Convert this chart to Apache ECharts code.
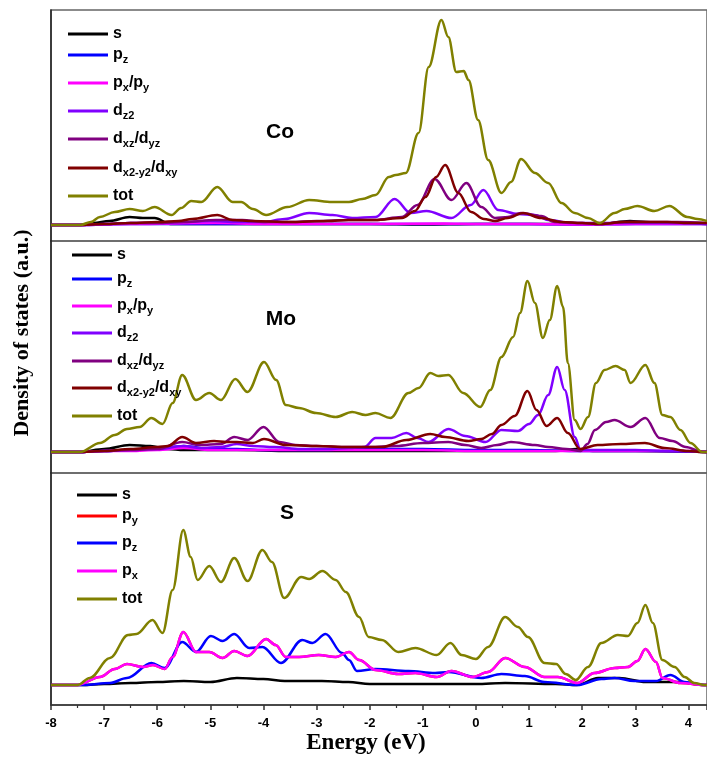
<!DOCTYPE html>
<html>
<head>
<meta charset="utf-8">
<script src="https://cdn.jsdelivr.net/npm/echarts@6/dist/echarts.min.js"></script>
<style>html,body{margin:0;padding:0;background:#fff}#c{width:707px;height:762px}</style>
</head>
<body>
<div id="c"></div>
<script>
// Energy ticks (eV)
const xTicks = [-8,-7,-6,-5,-4,-3,-2,-1,0,1,2,3,4];

// ---- Co PDOS (a.u.) : [energy, dos]
const coS   = [[-8,0],[-7.45,0],[-7.2,2],[-6.9,4],[-6.52,8],[-6.27,7],[-6.05,7],[-5.75,1],[-5,1],[-4,1],[-3,1],[-2,1],[-1,0.5],[0,1],[1,1],[2,1],[2.33,1],[2.9,4],[3.2,3],[3.6,2],[4.35,1]];
const coPz  = [[-8,0],[-7.5,0],[-6.5,1],[-5,1],[-3,1],[-1,1],[0,1],[1,1],[2,0.5],[3,1],[4,1],[4.35,1]];
const coPxPy= [[-8,0],[-7.5,0],[-6.5,1],[-4.9,2],[-4,1],[-2,1],[-0.6,1.5],[0,1],[1,1],[2,0.5],[3,1],[4.35,1]];
const coDz2 = [[-8,0],[-7.5,0],[-7,1],[-6.5,2],[-6,2],[-5.5,3],[-5,4],[-4.5,3],[-4,3],[-3.6,6],[-3.14,12],[-2.7,10],[-2.33,7],[-1.89,8],[-1.53,26],[-1.23,12],[-0.93,14],[-0.46,7],[-0.1,20],[0.14,35],[0.42,15],[0.79,11],[1.11,10],[1.36,5],[1.8,2],[2.5,2],[3.5,2],[4.35,1]];
const coDxz = [[-8,0],[-7.5,0],[-7,1],[-6.5,2],[-6,2],[-5.5,3],[-4.9,5],[-4.4,5],[-4,3],[-3.5,3],[-3,4],[-2.4,5],[-1.9,5],[-1.4,8],[-1.1,20],[-0.78,46],[-0.46,25],[-0.18,42],[0.1,18],[0.36,7],[0.6,8],[0.85,12],[1.23,9],[1.48,3],[2.0,2],[2.33,1],[2.8,3],[3.3,3],[3.8,3],[4.35,2]];
const coDx2 = [[-8,0],[-7.5,0],[-7,1],[-6.5,2],[-6,3],[-5.6,4],[-5.34,6],[-4.87,10],[-4.58,5],[-4.2,4],[-3.5,3],[-2.8,4],[-2.4,5],[-1.9,5],[-1.39,7],[-1.15,14],[-0.95,28],[-0.75,48],[-0.58,60],[-0.33,32],[-0.09,13],[0.15,6],[0.36,4],[0.6,7],[0.89,12],[1.23,7],[1.61,3],[2.0,2],[2.33,1],[2.8,3],[3.2,3],[3.6,3],[4.0,2],[4.35,2]];
const coTot = [[-8,0],[-7.45,0],[-7.25,3],[-7.08,8],[-6.8,13],[-6.52,16],[-6.27,14],[-6.05,18],[-5.73,10],[-5.55,17],[-5.36,24],[-5.17,23],[-4.87,38],[-4.58,23],[-4.42,23],[-4.2,16],[-3.95,10],[-3.55,18],[-3.14,25],[-2.71,23],[-2.39,23],[-2.14,26],[-1.89,30],[-1.64,48],[-1.51,50],[-1.32,52],[-1.08,92],[-0.89,158],[-0.65,205],[-0.52,188],[-0.37,153],[-0.23,154],[-0.14,145],[0.04,105],[0.23,65],[0.48,32],[0.66,43],[0.85,66],[1.11,52],[1.36,42],[1.61,22],[1.86,12],[2.11,7],[2.33,2],[2.61,12],[2.8,16],[3.04,19],[3.36,14],[3.64,19],[3.98,8],[4.17,6],[4.35,4]];

// ---- Mo PDOS
const moS   = [[-8,0],[-7.45,0],[-7.0,3],[-6.52,7],[-6.13,6],[-5.8,3],[-5.5,2],[-4.5,2],[-3.5,1],[-2.5,1],[-1.5,1],[-0.5,1],[0.5,1],[1.5,1],[1.9,3],[2.2,1],[3,1],[4.35,0]];
const moPz  = [[-8,0],[-7.5,0],[-7,1],[-6.5,2],[-6,3],[-5.5,6],[-5.0,3],[-4.5,3],[-4,2],[-3,2],[-2,3],[-1,3],[0,2],[1,2],[1.97,1],[2.5,1],[3.5,1],[4.35,0]];
const moPxPy= [[-8,0],[-7.5,0],[-7,1],[-6.5,1],[-6,2],[-5.5,4],[-5,2],[-4.5,2],[-4,2],[-3,2],[-2,2],[-1,2],[0,1],[1,1],[2,1],[3,1],[4,1],[4.35,0]];
const moDz2 = [[-8,0],[-7.5,0],[-7,1],[-6.5,2],[-6,3],[-5.5,6],[-5.2,4],[-4.8,5],[-4.5,8],[-4.2,6],[-3.8,5],[-3.3,3],[-2.8,3],[-2.39,4],[-2.1,5],[-1.89,14],[-1.59,14],[-1.31,19],[-1.1,14],[-0.89,10],[-0.52,23],[-0.2,16],[0.18,10],[0.48,22],[0.79,21],[1.0,28],[1.17,37],[1.36,57],[1.53,85],[1.67,62],[1.86,15],[1.97,2],[2.3,2],[3.0,2],[3.6,1],[4.35,0]];
const moDxz = [[-8,0],[-7.5,0],[-7,1],[-6.5,2],[-6,3],[-5.53,10],[-5.2,7],[-4.8,8],[-4.55,15],[-4.3,12],[-4.0,25],[-3.7,10],[-3.4,7],[-3,6],[-2.5,5],[-2,5],[-1.5,6],[-1.0,9],[-0.52,10],[-0.2,7],[0.1,4],[0.4,7],[0.66,10],[1.11,7],[1.36,5],[1.7,3],[1.97,1],[2.1,8],[2.24,22],[2.45,30],[2.61,32],[2.91,25],[3.19,34],[3.46,14],[3.7,11],[3.95,5],[4.26,0],[4.35,0]];
const moDx2 = [[-8,0],[-7.5,0],[-7,1],[-6.5,3],[-6,5],[-5.8,6],[-5.53,15],[-5.27,9],[-4.93,11],[-4.7,10],[-4.5,10],[-4.2,9],[-3.99,13],[-3.58,7],[-3,6],[-2.4,5],[-1.77,5],[-1.31,12],[-0.86,18],[-0.58,15],[-0.14,11],[0.1,13],[0.3,18],[0.48,27],[0.73,36],[0.97,61],[1.14,42],[1.33,26],[1.53,34],[1.73,19],[1.96,3],[2.29,7],[2.73,8],[3.18,9],[3.55,4],[4.0,1],[4.26,0],[4.35,0]];
const moTot = [[-8,0],[-7.45,0],[-7.08,9],[-6.8,17],[-6.57,23],[-6.33,25],[-6.11,34],[-5.9,28],[-5.71,49],[-5.53,77],[-5.27,52],[-5.02,59],[-4.8,52],[-4.53,73],[-4.3,60],[-3.99,90],[-3.76,72],[-3.58,47],[-3.33,44],[-3.01,39],[-2.64,35],[-2.33,40],[-2.08,37],[-1.89,39],[-1.61,34],[-1.27,59],[-1.08,64],[-0.86,79],[-0.71,76],[-0.52,77],[-0.24,59],[0.08,45],[0.27,62],[0.48,95],[0.7,115],[0.83,139],[0.97,171],[1.11,149],[1.26,114],[1.39,132],[1.53,166],[1.64,145],[1.73,89],[1.86,32],[1.97,23],[2.11,35],[2.26,69],[2.42,82],[2.63,86],[2.8,82],[2.91,69],[3.19,87],[3.36,69],[3.51,37],[3.66,35],[3.85,22],[4.04,9],[4.26,0],[4.35,0]];

// ---- S PDOS
const sS   = [[-8,0],[-7.4,0],[-7,1],[-6.5,2],[-6,3],[-5.5,4],[-5,3],[-4.5,7],[-4,6],[-3.6,4],[-2.9,4],[-2.4,3],[-2,1],[-1,1],[0,1],[0.55,2],[1.5,1],[1.9,0],[2.3,7],[2.7,7],[3.2,3],[3.8,3],[4.3,0],[4.35,0]];
const sPx  = [[-8,0],[-7.5,0],[-7.08,8],[-6.8,16],[-6.57,21],[-6.27,18],[-6.08,20],[-5.86,16],[-5.71,28],[-5.51,53],[-5.27,33],[-5.02,33],[-4.77,27],[-4.55,34],[-4.3,29],[-3.95,46],[-3.77,40],[-3.58,28],[-3.33,28],[-2.96,30],[-2.64,28],[-2.39,33],[-2.2,25],[-1.89,15],[-1.46,11],[-1.14,12],[-0.74,8],[-0.46,14],[-0.06,8],[0.23,13],[0.55,27],[0.92,18],[1.29,8],[1.54,8],[1.91,2],[2.23,12],[2.61,17],[2.86,18],[3.04,24],[3.19,36],[3.39,23],[3.51,7],[3.85,2],[4.3,0],[4.35,0]];
const sPy  = sPx.map(p => p.slice()); // py coincides with px (hidden beneath it)
const sPz  = [[-8,0],[-7.4,0],[-6.89,2],[-6.57,7],[-6.11,22],[-5.86,17],[-5.53,43],[-5.27,33],[-4.99,49],[-4.77,44],[-4.55,51],[-4.27,37],[-4.02,38],[-3.67,22],[-3.27,45],[-3.08,42],[-2.83,51],[-2.52,32],[-2.39,25],[-2.24,14],[-1.89,16],[-1.27,14],[-0.77,12],[-0.52,13],[0.1,7],[0.48,11],[0.92,9],[1.29,3],[1.91,0],[2.36,6],[2.61,7],[2.98,4],[3.39,4],[3.66,10],[3.93,3],[4.3,0],[4.35,0]];
const sTot = [[-8,0],[-7.5,0],[-7.27,7],[-6.89,27],[-6.55,50],[-6.39,51],[-6.09,65],[-5.9,52],[-5.71,95],[-5.51,155],[-5.37,128],[-5.24,105],[-5.02,119],[-4.8,103],[-4.55,127],[-4.3,104],[-4.02,135],[-3.84,123],[-3.61,87],[-3.29,108],[-3.14,106],[-2.89,114],[-2.64,105],[-2.45,93],[-2.2,68],[-2.02,48],[-1.77,45],[-1.46,33],[-1.14,37],[-0.74,30],[-0.48,42],[-0.27,30],[0.0,26],[0.23,38],[0.55,68],[0.79,58],[0.98,48],[1.29,22],[1.51,21],[1.69,11],[1.88,5],[2.11,18],[2.36,42],[2.67,50],[2.86,49],[3.04,62],[3.19,80],[3.33,62],[3.51,25],[3.74,18],[3.93,8],[4.11,2],[4.3,0],[4.35,0]];

const panelNames = ['Co','Mo','S'];

const C = {black:'#000000', blue:'#0000ff', magenta:'#ff00ff', violet:'#8000ff', purple:'#800080', dred:'#800000', olive:'#808000', red:'#ff0000'};

const panels = [
  {id:'co', items:[
    ['s', coS, C.black, '{m|s}{b| }'],
    ['pz', coPz, C.blue, '{m|p}{b|z}'],
    ['pxpy', coPxPy, C.magenta, '{m|p}{b|x}{m|/p}{b|y}'],
    ['dz2', coDz2, C.violet, '{m|d}{b|z2}'],
    ['dxz', coDxz, C.purple, '{m|d}{b|xz}{m|/d}{b|yz}'],
    ['dx2', coDx2, C.dred, '{m|d}{b|x2-y2}{m|/d}{b|xy}'],
    ['tot', coTot, C.olive, '{m|tot}{b| }']]},
  {id:'mo', items:[
    ['s', moS, C.black, '{m|s}{b| }'],
    ['pz', moPz, C.blue, '{m|p}{b|z}'],
    ['pxpy', moPxPy, C.magenta, '{m|p}{b|x}{m|/p}{b|y}'],
    ['dz2', moDz2, C.violet, '{m|d}{b|z2}'],
    ['dxz', moDxz, C.purple, '{m|d}{b|xz}{m|/d}{b|yz}'],
    ['dx2', moDx2, C.dred, '{m|d}{b|x2-y2}{m|/d}{b|xy}'],
    ['tot', moTot, C.olive, '{m|tot}{b| }']]},
  {id:'s', items:[
    ['s', sS, C.black, '{m|s}{b| }'],
    ['py', sPy, C.red, '{m|p}{b|y}'],
    ['pz', sPz, C.blue, '{m|p}{b|z}'],
    ['px', sPx, C.magenta, '{m|p}{b|x}'],
    ['tot', sTot, C.olive, '{m|tot}{b| }']]}
];

// layout (pixels)
const grids = [
  {left:51, right:-1, top:10, height:231},
  {left:51, right:-1, top:241, height:232},
  {left:51, right:-1, top:473, height:232}
];
const yRanges = [[-16,215],[-21,211],[-20,212]];
const legendLeft = [68, 72, 77];
const legendLineY = [
  [33, 54, 82, 110, 138, 167, 195],
  [254, 278, 305, 332, 360, 387, 415],
  [494, 515, 542, 570, 598]
];
const LEG_OFFSET = 7; // icon centre below legend box top

const rich = {
  m:{fontFamily:'Liberation Sans, Arial', fontWeight:'bold', fontSize:16, lineHeight:20, color:'#000'},
  b:{fontFamily:'Liberation Sans, Arial', fontWeight:'bold', fontSize:11, lineHeight:12, color:'#000', verticalAlign:'bottom'}
};

const labelMap = {};
const series = [];
const legends = [];
panels.forEach((p, i) => {
  p.items.forEach((it, k) => {
    const nm = p.id + '_' + it[0];
    labelMap[nm] = it[3];
    series.push({
      name: nm, type:'line', xAxisIndex:i, yAxisIndex:i,
      data: it[1], showSymbol:false, symbol:'none',
      smooth:0.35, smoothMonotone:'x',
      lineStyle:{color:it[2], width:2.5}, itemStyle:{color:it[2]},
      z: 2, silent:true, clip:true
    });
    legends.push({
      data:[nm], orient:'vertical', left:legendLeft[i], top:legendLineY[i][k] - LEG_OFFSET,
      itemWidth:40, itemHeight:3, icon:'rect', padding:0, selectedMode:false,
      formatter: n => labelMap[n],
      textStyle:{rich: rich}
    });
  });
});

const xAxes = [0,1,2].map(i => ({
  type:'value', gridIndex:i, min:-8, max:4.35, interval:1,
  axisLine:{show: i===2, onZero:false, lineStyle:{color:'#333', width:1.5}},
  axisTick:{show: i===2, inside:false, length:5, lineStyle:{color:'#333', width:1.5}},
  minorTick:{show: i===2, splitNumber:2, length:3, lineStyle:{color:'#333', width:1.2}},
  axisLabel:{show: i===2, showMaxLabel:false, margin:12, color:'#000', fontFamily:'Liberation Sans, Arial', fontWeight:'bold', fontSize:13,
    formatter: v => (xTicks.indexOf(v) >= 0 ? String(v) : '')},
  splitLine:{show:false}
}));
const yAxes = [0,1,2].map(i => ({
  type:'value', gridIndex:i, min:yRanges[i][0], max:yRanges[i][1],
  axisLine:{show:true, onZero:false, lineStyle:{color:'#222', width:1.5}},
  axisTick:{show:false}, axisLabel:{show:false}, splitLine:{show:false}
}));

const chart = echarts.init(document.getElementById('c'), null, {renderer:'canvas'});
chart.setOption({
  animation:false,
  backgroundColor:'#fff',
  grid: grids.map(g => Object.assign({show:true, borderColor:'#666', borderWidth:1.5, backgroundColor:'transparent'}, g)),
  xAxis: xAxes,
  yAxis: yAxes,
  legend: legends,
  series: series,
  graphic: [
    {type:'text', x:280, y:132, style:{text:panelNames[0], fontFamily:'Liberation Sans, Arial', fontWeight:'bold', fontSize:21, fill:'#000', align:'center', verticalAlign:'middle'}},
    {type:'text', x:281, y:319, style:{text:panelNames[1], fontFamily:'Liberation Sans, Arial', fontWeight:'bold', fontSize:21, fill:'#000', align:'center', verticalAlign:'middle'}},
    {type:'text', x:287, y:513, style:{text:panelNames[2], fontFamily:'Liberation Sans, Arial', fontWeight:'bold', fontSize:21, fill:'#000', align:'center', verticalAlign:'middle'}},
    {type:'text', x:22, y:333, rotation:Math.PI/2, style:{text:'Density of states (a.u.)', fontFamily:'Liberation Serif, Times New Roman', fontWeight:'bold', fontSize:22, fill:'#000', align:'center', verticalAlign:'middle'}},
    {type:'text', x:366, y:743, style:{text:'Energy (eV)', fontFamily:'Liberation Serif, Times New Roman', fontWeight:'bold', fontSize:23, fill:'#000', align:'center', verticalAlign:'middle'}}
  ]
});
</script>
</body>
</html>
